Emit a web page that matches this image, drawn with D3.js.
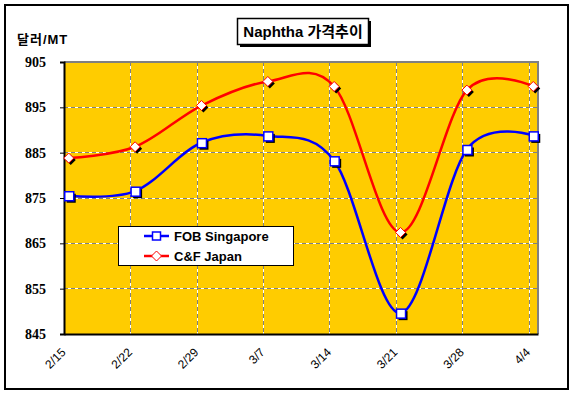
<!DOCTYPE html>
<html><head><meta charset="utf-8">
<script src="https://cdn.jsdelivr.net/npm/d3@7"></script>
<style>body{margin:0;background:#fff}svg{display:block}</style>
</head><body>
<svg id="c" width="574" height="395"></svg>
<script>
const categories = ["2/15","2/22","2/29","3/7","3/14","3/21","3/28","4/4"];
const fobSingapore = [875.5, 876.5, 887.2, 888.7, 883.2, 849.6, 885.7, 888.7];
const cfJapan = [883.8, 886.3, 895.4, 900.7, 899.6, 867.4, 898.8, 899.6];
const yTicks = [845, 855, 865, 875, 885, 895, 905];
const seriesNames = ["FOB Singapore", "C&F Japan"];
const titleText = "Naphtha 가격추이";
const yTitle = "달러/MT";

const svg = d3.select("#c");
const L = 64, R = 538, T = 62, B = 334;
// date axis: 7 days per category, 50 days span, points centered in their day
const x = d3.scaleLinear().domain([0, 50]).range([L, R]);
const y = d3.scaleLinear().domain([845, 905]).range([B, T]);
const px = i => x(i * 7 + 0.5);

// outer border
svg.append("rect").attr("x", 5).attr("y", 5).attr("width", 563).attr("height", 384)
  .attr("fill", "#fff").attr("stroke", "#000").attr("stroke-width", 2);

// plot area
svg.append("rect").attr("x", L).attr("y", T).attr("width", R - L).attr("height", B - T)
  .attr("fill", "#FFCC00");

// gridlines
const g = svg.append("g");
yTicks.slice(1, -1).forEach(v => {
  g.append("line").attr("x1", L).attr("x2", R).attr("y1", y(v)).attr("y2", y(v))
    .attr("stroke", "#fff").attr("stroke-width", 1).attr("shape-rendering", "crispEdges");
  g.append("line").attr("x1", L).attr("x2", R).attr("y1", y(v)).attr("y2", y(v))
    .attr("stroke", "#808080").attr("stroke-width", 1).attr("stroke-dasharray", "4,3")
    .attr("shape-rendering", "crispEdges");
});
categories.forEach((c, i) => {
  if (i === 0) return;
  const xx = Math.round(x(i * 7));
  g.append("line").attr("x1", xx).attr("x2", xx).attr("y1", T).attr("y2", B)
    .attr("stroke", "#fff").attr("stroke-width", 1).attr("shape-rendering", "crispEdges");
  g.append("line").attr("x1", xx).attr("x2", xx).attr("y1", T).attr("y2", B)
    .attr("stroke", "#808080").attr("stroke-width", 1).attr("stroke-dasharray", "4,3")
    .attr("shape-rendering", "crispEdges");
});

// plot border top/right gray
svg.append("path").attr("d", `M${L},${T}H${R}V${B}`).attr("fill", "none")
  .attr("stroke", "#808080").attr("stroke-width", 2);

// axes
const yAxis = d3.axisLeft(y).tickValues(yTicks).tickSize(4).tickPadding(14).tickFormat(d3.format("d"));
const ya = svg.append("g").attr("transform", `translate(${L},0)`).call(yAxis);
ya.select(".domain").attr("stroke", "#000").attr("stroke-width", 2);
ya.selectAll("text").attr("font-family", "'Liberation Serif','Times New Roman',serif")
  .attr("font-weight", "bold").attr("font-size", 14).attr("fill", "#000");

const xAxis = d3.axisBottom(x).tickValues(categories.map((c, i) => i * 7))
  .tickFormat((d, i) => categories[i]).tickSize(0).tickPadding(0);
const xa = svg.append("g").attr("transform", `translate(0,${B})`).call(xAxis);
xa.select(".domain").attr("stroke", "#000").attr("stroke-width", 2);
xa.selectAll("text").attr("font-family", "'Liberation Sans',Arial,sans-serif")
  .attr("font-size", 12).attr("fill", "#000")
  .attr("text-anchor", "end").attr("dy", null).attr("y", 0)
  .attr("transform", "translate(2,19) rotate(-45)");

// lines
const line = d3.line().x((d, i) => px(i)).y(d => y(d)).curve(d3.curveCardinal.tension(0));
svg.append("path").datum(cfJapan).attr("d", line).attr("fill", "none")
  .attr("stroke", "#FF0000").attr("stroke-width", 2.5);
svg.append("path").datum(fobSingapore).attr("d", line).attr("fill", "none")
  .attr("stroke", "#0000FF").attr("stroke-width", 2.5);

// markers
function square(sel, cx, cy) {
  sel.append("rect").attr("x", cx - 4 + 2).attr("y", cy - 4 + 2).attr("width", 9).attr("height", 9).attr("fill", "#000");
  sel.append("rect").attr("x", cx - 4).attr("y", cy - 4).attr("width", 9).attr("height", 9)
    .attr("fill", "#fff").attr("stroke", "#0000FF").attr("stroke-width", 1.5);
}
function diamond(sel, cx, cy) {
  const d = (a, b) => `M${a},${b - 5}L${a + 5},${b}L${a},${b + 5}L${a - 5},${b}Z`;
  sel.append("path").attr("d", d(cx + 2, cy + 2)).attr("fill", "#000");
  sel.append("path").attr("d", d(cx, cy)).attr("fill", "#fff").attr("stroke", "#FF0000").attr("stroke-width", 1);
}
const mk = svg.append("g");
cfJapan.forEach((v, i) => diamond(mk, px(i), y(v)));
fobSingapore.forEach((v, i) => square(mk, px(i), y(v)));

// legend
const lg = svg.append("g");
lg.append("rect").attr("x", 118.5).attr("y", 226.5).attr("width", 175).attr("height", 39)
  .attr("fill", "#fff").attr("stroke", "#000").attr("stroke-width", 1);
[["#0000FF", square], ["#FF0000", diamond]].forEach(([col, fn], i) => {
  const ly = 236 + i * 20;
  lg.append("line").attr("x1", 144).attr("x2", 169).attr("y1", ly).attr("y2", ly)
    .attr("stroke", col).attr("stroke-width", 2.5);
  const cx = 156.5;
  if (i === 0) {
    lg.append("rect").attr("x", cx - 4).attr("y", ly - 4).attr("width", 8).attr("height", 8)
      .attr("fill", "#fff").attr("stroke", col).attr("stroke-width", 1.5);
  } else {
    lg.append("path").attr("d", `M${cx},${ly - 5}L${cx + 5},${ly}L${cx},${ly + 5}L${cx - 5},${ly}Z`)
      .attr("fill", "#fff").attr("stroke", col).attr("stroke-width", 1);
  }
  lg.append("text").attr("x", 174).attr("y", ly + 5).text(seriesNames[i])
    .attr("font-family", "'Liberation Sans',Arial,sans-serif").attr("font-weight", "bold")
    .attr("font-size", 13).attr("fill", "#000");
});

// title box
const tb = svg.append("g");
tb.append("rect").attr("x", 240).attr("y", 21).attr("width", 131).attr("height", 26).attr("fill", "#000");
tb.append("rect").attr("x", 237.5).attr("y", 18.5).attr("width", 131).attr("height", 26)
  .attr("fill", "#fff").attr("stroke", "#000").attr("stroke-width", 1.5);
tb.append("text").attr("x", 303).attr("y", 37).attr("text-anchor", "middle").text(titleText)
  .attr("font-family", "'Liberation Sans','Noto Sans CJK KR',sans-serif").attr("font-weight", "bold")
  .attr("font-size", 15).attr("fill", "#000");

// y title
svg.append("text").attr("x", 17).attr("y", 44).text(yTitle)
  .attr("font-family", "'Liberation Sans','Noto Sans CJK KR',sans-serif").attr("font-weight", "bold")
  .attr("font-size", 13).attr("letter-spacing", 1).attr("fill", "#000");
</script>
</body></html>
